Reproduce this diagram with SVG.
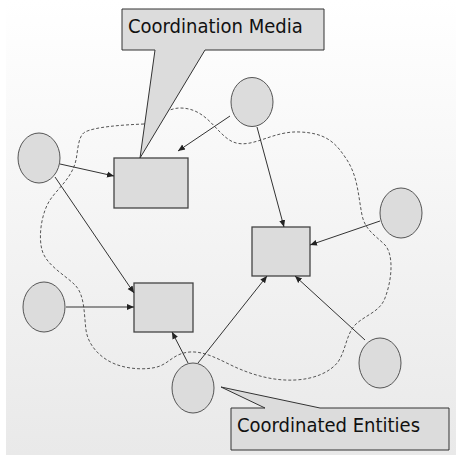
<svg xmlns="http://www.w3.org/2000/svg" width="456" height="455" viewBox="0 0 456 455">
<defs>
<linearGradient id="bg" x1="0" y1="0" x2="0" y2="1">
<stop offset="0" stop-color="#ffffff"/>
<stop offset="1" stop-color="#e9e9e9"/>
</linearGradient>
<marker id="ah" markerWidth="8" markerHeight="8" refX="7" refY="4" orient="auto" markerUnits="userSpaceOnUse">
<path d="M0,1 L7,4 L0,7 Z" fill="#222"/>
</marker>
<style>
.ent{fill:#dcdcdc;stroke:#555;stroke-width:1}
.med{fill:#dcdcdc;stroke:#444;stroke-width:1.3}
.call{fill:#dcdcdc;stroke:#333;stroke-width:1}
.lbl{font-family:"DejaVu Sans Condensed","DejaVu Sans",sans-serif;font-size:20px;fill:#111}
.arr{stroke:#333;stroke-width:1;fill:none;marker-end:url(#ah)}
.blob{fill:none;stroke:#555;stroke-width:1;stroke-dasharray:3,2}
</style>
</defs>
<rect x="0" y="0" width="456" height="455" fill="#fff"/>
<rect x="6" y="0" width="450" height="455" fill="url(#bg)"/>
<path class="blob" d="M144,124 C120,125 95,127 85,132 C78,136 78,150 76,160 C72,178 58,188 50,200 C42,212 38,235 42,250 C46,265 65,275 75,285 C85,295 84,315 86,330 C88,345 100,358 115,364 C130,370 150,370 160,366 C170,362 175,353 190,352 C205,351 220,360 235,367 C255,376 275,381 295,380 C315,379 330,372 338,362 C346,350 346,335 355,325 C365,315 380,312 385,298 C392,280 394,255 385,245 C375,235 365,230 362,215 C358,195 358,175 345,157 C335,142 325,133 300,132 C280,131 265,140 250,143 C235,146 228,140 220,132 C210,122 200,108 180,108 C170,108 160,115 150,120 Z"/>
<g id="media-a"><rect class="med" x="114" y="158" width="74" height="50"/></g>
<g id="media-b"><rect class="med" x="252" y="227" width="58" height="49"/></g>
<g id="media-c"><rect class="med" x="134" y="283" width="59" height="49"/></g>
<g id="entity-top"><ellipse class="ent" cx="252" cy="102" rx="21" ry="24.5"/></g>
<g id="entity-left"><ellipse class="ent" cx="39" cy="158" rx="21" ry="25"/></g>
<g id="entity-right"><ellipse class="ent" cx="401" cy="213" rx="21" ry="25"/></g>
<g id="entity-left-bottom"><ellipse class="ent" cx="44" cy="307" rx="21" ry="25"/></g>
<g id="entity-bottom"><ellipse class="ent" cx="193" cy="388" rx="21" ry="25"/></g>
<g id="entity-bottom-right"><ellipse class="ent" cx="380" cy="363" rx="21" ry="25"/></g>
<g id="connectors">
<line class="arr" x1="230" y1="116" x2="178" y2="151"/>
<line class="arr" x1="257" y1="127" x2="284" y2="227"/>
<line class="arr" x1="60" y1="164" x2="114" y2="176"/>
<line class="arr" x1="55" y1="177" x2="134" y2="293"/>
<line class="arr" x1="380" y1="221" x2="310" y2="245"/>
<line class="arr" x1="66" y1="307" x2="134" y2="307"/>
<line class="arr" x1="188" y1="363" x2="172" y2="332"/>
<line class="arr" x1="198" y1="363" x2="267" y2="276"/>
<line class="arr" x1="365" y1="340" x2="295" y2="276"/>
</g>
<g id="callout-media">
<path class="call" d="M122,9 H324 V50 H205 L140,158 L155,50 H122 Z"/>
<text class="lbl" x="128" y="33">Coordination Media</text>
</g>
<g id="callout-entities">
<path class="call" d="M231,408 H265 L221,387 L320,408 H449 V450 H231 Z"/>
<text class="lbl" x="237" y="432">Coordinated Entities</text>
</g>
</svg>
